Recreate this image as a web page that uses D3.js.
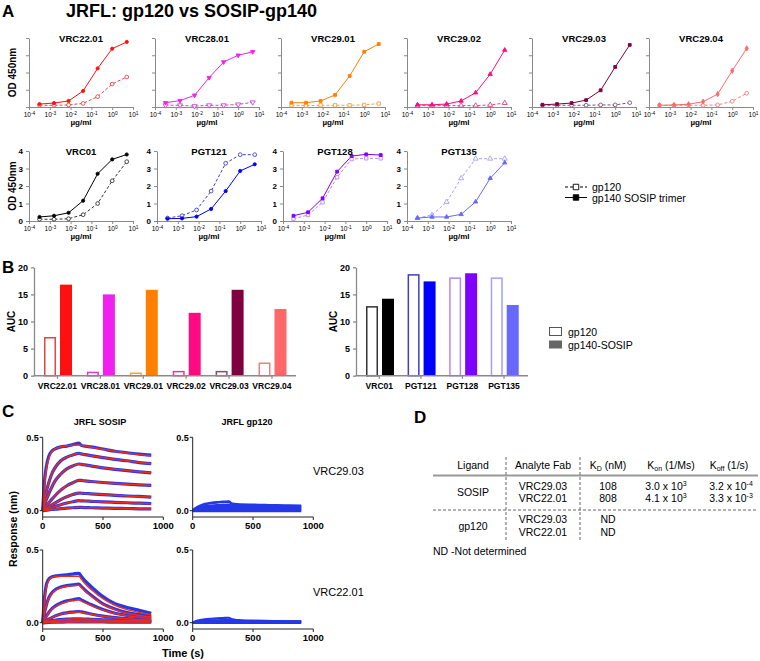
<!DOCTYPE html>
<html><head><meta charset="utf-8">
<script src="https://cdn.jsdelivr.net/npm/d3@7"></script>
<style>
body{margin:0;background:#fff;}
svg text{font-family:"Liberation Sans",Arial,Helvetica,sans-serif;}
</style></head><body>
<svg id="c" width="760" height="661"></svg>
<script>
// ---------------- DATA ----------------
const concentrations = [0.00032, 0.0016, 0.008, 0.04, 0.2, 1, 5];
const xTickValues = [1e-4, 1e-3, 1e-2, 1e-1, 1, 10];
const xTickExponents = ["-4", "-3", "-2", "-1", "0", "1"];
const odTicks = [0, 1, 2, 3, 4];

const antibodiesRow1 = ["VRC22.01", "VRC28.01", "VRC29.01", "VRC29.02", "VRC29.03", "VRC29.04"];
const odGp120Row1 = [
  [0.10, 0.10, 0.12, 0.21, 0.60, 1.33, 1.74],
  [0.10, 0.10, 0.05, 0.10, 0.10, 0.15, 0.27],
  [0.10, 0.08, 0.10, 0.10, 0.10, 0.12, 0.20],
  [0.08, 0.08, 0.08, 0.08, 0.08, 0.12, 0.23],
  [0.10, 0.10, 0.10, 0.10, 0.12, 0.12, 0.25],
  [0.10, 0.10, 0.10, 0.10, 0.12, 0.33, 0.80]
];
const odSosipRow1 = [
  [0.17, 0.23, 0.35, 0.93, 2.24, 3.38, 3.77],
  [0.25, 0.37, 0.68, 1.70, 2.61, 3.00, 3.20],
  [0.25, 0.25, 0.35, 0.70, 1.80, 3.20, 3.65],
  [0.13, 0.13, 0.17, 0.35, 0.83, 1.90, 3.30],
  [0.13, 0.17, 0.23, 0.40, 0.97, 2.32, 3.60],
  [0.10, 0.12, 0.16, 0.31, 0.75, 2.10, 3.40]
];
const antibodiesRow2 = ["VRC01", "PGT121", "PGT128", "PGT135"];
const odGp120Row2 = [
  [0.10, 0.10, 0.13, 0.36, 1.00, 2.30, 3.39],
  [0.17, 0.30, 0.63, 1.71, 3.30, 3.79, 3.79],
  [0.13, 0.34, 1.07, 2.50, 3.54, 3.58, 3.58],
  [0.17, 0.34, 1.09, 2.44, 3.56, 3.56, 3.56]
];
const odSosipRow2 = [
  [0.23, 0.30, 0.47, 1.16, 2.70, 3.52, 3.80],
  [0.13, 0.15, 0.25, 0.69, 1.71, 2.86, 3.24],
  [0.30, 0.50, 1.30, 2.82, 3.71, 3.81, 3.77],
  [0.17, 0.23, 0.23, 0.38, 1.10, 2.44, 3.33]
];
const legendA = ["gp120", "gp140 SOSIP trimer"];

const aucTicks = [0, 5, 10, 15, 20];
const aucGp120Group1 = [7.0, 0.6, 0.45, 0.75, 0.75, 2.3];
const aucSosipGroup1 = [16.8, 15.0, 15.85, 11.6, 15.85, 12.3];
const aucGp120Group2 = [12.7, 18.6, 18.0, 18.0];
const aucSosipGroup2 = [14.2, 17.4, 18.9, 13.05];
const legendB = ["gp120", "gp140-SOSIP"];

const sensorTime = [0, 15, 30, 50, 75, 100, 150, 200, 250, 300, 320, 350, 400, 500, 600, 700, 800, 900];
const sensorXTicks = [0, 500, 1000];
const sensorYTicks = [0, 0.5];
const sosipVRC2903Data = [
  [0, .20, .30, .37, .405, .42, .435, .44, .45, .46, .445, .44, .435, .42, .405, .395, .385, .378],
  [0, .07, .13, .19, .25, .29, .34, .365, .38, .39, .387, .382, .375, .362, .35, .34, .328, .32],
  [0, .04, .075, .115, .16, .2, .25, .285, .305, .318, .316, .312, .305, .292, .282, .273, .265, .258],
  [0, .017, .032, .052, .077, .1, .14, .17, .19, .207, .206, .203, .199, .192, .186, .181, .176, .172],
  [0, .008, .016, .026, .039, .052, .076, .095, .11, .12, .119, .117, .115, .11, .105, .1, .097, .093],
  [0, .004, .008, .014, .021, .028, .041, .052, .061, .068, .067, .066, .064, .06, .057, .054, .051, .048],
  [0, .002, .003, .005, .008, .01, .014, .017, .02, .023, .022, .021, .02, .018, .016, .015, .013, .012]
];
const sosipVRC2903Fit = [
  [0, .17, .28, .355, .40, .42, .435, .442, .446, .448, .445, .44, .433, .418, .405, .393, .382, .372],
  [0, .07, .13, .19, .25, .29, .34, .365, .38, .39, .387, .382, .375, .362, .35, .34, .328, .32],
  [0, .04, .075, .115, .16, .2, .25, .285, .305, .318, .316, .312, .305, .292, .282, .273, .265, .258],
  [0, .017, .032, .052, .077, .1, .14, .17, .19, .207, .206, .203, .199, .192, .186, .181, .176, .172],
  [0, .008, .016, .026, .039, .052, .076, .095, .11, .12, .119, .117, .115, .11, .105, .1, .097, .093],
  [0, .004, .008, .014, .021, .028, .041, .052, .061, .068, .067, .066, .064, .06, .057, .054, .051, .048],
  [0, .002, .003, .005, .008, .01, .014, .017, .02, .023, .022, .021, .02, .018, .016, .015, .013, .012]
];
const gp120VRC2903Data = [
  [0, .012, .02, .03, .038, .045, .052, .057, .06, .063, .05, .045, .042, .04, .038, .036, .035, .034],
  [0, .008, .014, .02, .025, .03, .034, .037, .039, .04, .036, .034, .033, .032, .031, .03, .03, .029],
  [0, .005, .01, .014, .017, .02, .023, .025, .027, .028, .026, .025, .024, .024, .023, .023, .022, .022],
  [0, .003, .006, .008, .01, .012, .014, .015, .016, .017, .016, .016, .015, .015, .015, .014, .014, .014],
  [0, .001, .002, .003, .004, .005, .006, .006, .007, .007, .007, .006, .006, .006, .006, .006, .005, .005],
  [0, -.002, -.002, -.002, -.002, -.002, -.002, -.002, -.002, -.002, -.002, -.002, -.002, -.002, -.002, -.002, -.002, -.002]
];
const sosipVRC2201Data = [
  [0, .17, .26, .30, .315, .32, .325, .33, .335, .34, .32, .29, .25, .18, .13, .105, .085, .065],
  [0, .07, .12, .17, .205, .225, .245, .255, .26, .265, .25, .225, .19, .13, .095, .07, .055, .045],
  [0, .025, .045, .07, .095, .112, .135, .15, .158, .165, .157, .145, .125, .09, .065, .05, .04, .032],
  [0, .008, .015, .025, .035, .045, .06, .068, .073, .077, .074, .069, .06, .045, .035, .028, .023, .02],
  [0, .003, .006, .01, .014, .017, .021, .024, .026, .027, .026, .025, .023, .02, .017, .015, .013, .012],
  [0, .001, .003, .005, .007, .008, .01, .011, .012, .013, .012, .012, .011, .01, .009, .008, .008, .007],
  [0, 0, .001, .002, .003, .003, .004, .005, .005, .006, .006, .005, .005, .005, .004, .004, .004, .004]
];
const sosipVRC2201Fit = [
  [0, .15, .24, .29, .31, .318, .32, .32, .32, .32, .30, .27, .23, .165, .12, .09, .07, .055],
  [0, .07, .12, .165, .2, .22, .24, .25, .255, .258, .245, .22, .185, .125, .09, .065, .05, .04],
  [0, .024, .044, .068, .092, .108, .13, .144, .152, .157, .15, .138, .12, .087, .063, .048, .038, .03],
  [0, .008, .015, .025, .035, .044, .058, .066, .071, .074, .071, .066, .058, .044, .034, .027, .022, .019],
  [0, .003, .006, .01, .014, .017, .021, .024, .026, .027, .026, .025, .023, .02, .017, .015, .013, .012],
  [0, .001, .003, .005, .007, .008, .01, .011, .012, .013, .012, .012, .011, .01, .009, .008, .008, .007],
  [0, 0, .001, .002, .003, .003, .004, .005, .005, .006, .006, .005, .005, .005, .004, .004, .004, .004]
];
const gp120VRC2201Data = [
  [0, .006, .011, .016, .02, .023, .027, .03, .032, .034, .025, .02, .017, .014, .012, .011, .01, .01],
  [0, .004, .007, .01, .012, .014, .016, .017, .018, .019, .015, .013, .012, .011, .01, .009, .009, .009],
  [0, .002, .004, .005, .006, .007, .008, .009, .009, .01, .008, .007, .007, .006, .006, .006, .005, .005],
  [0, -.002, -.002, -.002, -.002, -.002, -.002, -.002, -.002, -.002, -.002, -.002, -.002, -.002, -.002, -.002, -.002, -.002]
];
const sensorRowLabels = ["VRC29.03", "VRC22.01"];

const tableHeaders = ["Ligand", "Analyte Fab", "K_D (nM)", "K_on (1/Ms)", "K_off (1/s)"];
const tableLigands = ["SOSIP", "gp120"];
const tableAnalytes = ["VRC29.03", "VRC22.01", "VRC29.03", "VRC22.01"];
const tableKd = ["108", "808", "ND", "ND"];
const tableKonMantissa = ["3.0", "4.1"];
const tableKonExponent = ["3", "3"];
const tableKoffMantissa = ["3.2", "3.3"];
const tableKoffExponent = ["-4", "-3"];
const tableNote = "ND -Not determined";

// ---------------- STYLE ----------------
const colorOf = {
  "VRC22.01": "#ff1010", "VRC28.01": "#f020f0", "VRC29.01": "#ff8000", "VRC29.02": "#ff0a80",
  "VRC29.03": "#800040", "VRC29.04": "#ff6868", "VRC01": "#000000", "PGT121": "#0000ff",
  "PGT128": "#8000ff", "PGT135": "#6868ff"
};
const openStrokeOf = {
  "VRC22.01": "#e04848", "VRC28.01": "#d040d0", "VRC29.01": "#f0a050", "VRC29.02": "#e04090",
  "VRC29.03": "#805070", "VRC29.04": "#f08080", "VRC01": "#333333", "PGT121": "#4040c0",
  "PGT128": "#b888f0", "PGT135": "#a0a0ff"
};
const symbolOf = {
  "VRC22.01": ["circle", "circle"], "VRC28.01": ["tdown", "tdown"], "VRC29.01": ["square", "square"],
  "VRC29.02": ["triangle", "triangle"], "VRC29.03": ["square", "circle"], "VRC29.04": ["diamond", "circle"],
  "VRC01": ["circle", "circle"], "PGT121": ["circle", "circle"], "PGT128": ["square", "square"],
  "PGT135": ["triangle", "triangle"]
};
const AXIS = "#8a8a8a";
const svg = d3.select("#c");

function sym(g, type, cx, cy, size, fill, stroke) {
  let t = d3.symbolCircle, rot = 0;
  if (type === "square") t = d3.symbolSquare;
  if (type === "triangle") t = d3.symbolTriangle;
  if (type === "tdown") { t = d3.symbolTriangle; rot = 180; }
  if (type === "diamond") t = d3.symbolDiamond;
  g.append("path").attr("d", d3.symbol().type(t).size(size)())
    .attr("transform", `translate(${cx},${cy}) rotate(${rot})`)
    .attr("fill", fill).attr("stroke", stroke).attr("stroke-width", 0.9);
}
function text(g, x, y, s, size, opts = {}) {
  return g.append("text").attr("x", x).attr("y", y).text(s)
    .attr("font-size", size + "px")
    .attr("font-weight", opts.bold ? "bold" : "normal")
    .attr("text-anchor", opts.anchor || "start")
    .attr("fill", opts.fill || "#000");
}

// ---------------- PANEL A ----------------
text(svg, 2, 17, "A", 17, { bold: true });
text(svg, 66, 17, "JRFL: gp120 vs SOSIP-gp140", 18, { bold: true });

function doseChart(x0, yTop, yBot, name, gp, so, showY) {
  const g = svg.append("g");
  const x = d3.scaleLog().domain([1e-4, 10]).range([x0, x0 + 104]);
  const y = d3.scaleLinear().domain([0, 4]).range([yBot, yTop]);
  const ax = g.append("g").attr("transform", `translate(0,${yBot})`)
    .call(d3.axisBottom(x).tickValues(xTickValues).tickSize(3).tickSizeOuter(0).tickFormat(""))
    .attr("color", AXIS);
  ax.selectAll(".tick").each(function (d, i) {
    const t = d3.select(this).append("text").attr("y", 10).attr("fill", "#000")
      .attr("font-size", "6.5px").attr("text-anchor", "middle");
    t.append("tspan").text("10");
    t.append("tspan").attr("dy", -2.5).attr("font-size", "4.8px").text(xTickExponents[i]);
  });
  const ay = g.append("g").attr("transform", `translate(${x0},0)`)
    .call(d3.axisLeft(y).tickValues(odTicks).tickSize(3).tickSizeOuter(0)
      .tickFormat(showY ? d3.format("d") : ""))
    .attr("color", AXIS);
  ay.selectAll("text").attr("fill", "#000").attr("font-size", "8px").attr("font-weight", "bold");
  ay.selectAll("path,line").attr("stroke-width", 1);
  ax.selectAll("path,line").attr("stroke-width", 1);

  const c = colorOf[name], oc = openStrokeOf[name];
  const line = d3.line().x(d => x(d[0])).y(d => y(d[1]));
  const gpPts = concentrations.map((cc, i) => [cc, gp[i]]);
  const soPts = concentrations.map((cc, i) => [cc, so[i]]);
  g.append("path").attr("d", line(gpPts)).attr("fill", "none").attr("stroke", oc)
    .attr("stroke-width", 1).attr("stroke-dasharray", "3,2");
  g.append("path").attr("d", line(soPts)).attr("fill", "none").attr("stroke", c).attr("stroke-width", 1);
  gpPts.forEach(p => sym(g, symbolOf[name][1], x(p[0]), y(p[1]), 11, "#fff", oc));
  soPts.forEach(p => sym(g, symbolOf[name][0], x(p[0]), y(p[1]), 8, c, c));

  text(g, x0 + 52, yTop + 4, name, 9.5, { bold: true, anchor: "middle" });
  text(g, x0 + 52, yBot + 17.5, "\u00b5g/ml", 8, { bold: true, anchor: "middle" });
}
const row1X = [29, 155, 281, 407, 532, 649];
const row2X = [29, 157, 283, 407];
antibodiesRow1.forEach((n, i) => doseChart(row1X[i], 38, 107, n, odGp120Row1[i], odSosipRow1[i], false));
antibodiesRow2.forEach((n, i) => doseChart(row2X[i], 151, 221, n, odGp120Row2[i], odSosipRow2[i], true));
[[72.5], [186]].forEach((c, i) => {
  svg.append("text").attr("transform", `translate(16,${c[0]}) rotate(-90)`).attr("text-anchor", "middle")
    .attr("font-size", "10px").attr("font-weight", "bold").text("OD 450nm");
});
// legend A
{
  const g = svg.append("g");
  g.append("line").attr("x1", 565).attr("x2", 587).attr("y1", 187).attr("y2", 187)
    .attr("stroke", "#000").attr("stroke-dasharray", "3,2");
  sym(g, "square", 576, 187, 30, "#fff", "#000");
  text(g, 592, 190.5, legendA[0], 10.5);
  g.append("line").attr("x1", 565).attr("x2", 587).attr("y1", 197.5).attr("y2", 197.5).attr("stroke", "#000");
  sym(g, "square", 576, 197.5, 30, "#000", "#000");
  text(g, 592, 201.5, legendA[1], 10.5);
}

// ---------------- PANEL B ----------------
text(svg, 2, 273, "B", 17, { bold: true });
function barChart(axisX, axisEnd, bandStart, bandEnd, cats, open, filled, inner) {
  const g = svg.append("g");
  const y = d3.scaleLinear().domain([0, 20]).range([375.7, 267.3]);
  const x0 = d3.scaleBand().domain(cats).range([bandStart, bandEnd]);
  const x1 = d3.scaleBand().domain(["gp120", "sosip"]).range(inner).paddingInner(0.25);
  cats.forEach((c, i) => {
    g.append("rect").attr("x", x0(c) + x1("gp120") + 0.75).attr("width", x1.bandwidth() - 1.5)
      .attr("y", y(open[i])).attr("height", y(0) - y(open[i]))
      .attr("fill", "#fff").attr("stroke", openStrokeOf[c]).attr("stroke-width", 1.5);
    g.append("rect").attr("x", x0(c) + x1("sosip")).attr("width", x1.bandwidth())
      .attr("y", y(filled[i])).attr("height", y(0) - y(filled[i]))
      .attr("fill", colorOf[c]);
  });
  const ay = g.append("g").attr("transform", `translate(${axisX},0)`)
    .call(d3.axisLeft(y).tickValues(aucTicks).tickSize(3).tickSizeOuter(0)).attr("color", AXIS);
  ay.selectAll("text").attr("fill", "#000").attr("font-size", "9px").attr("font-weight", "bold");
  ay.selectAll("path,line").attr("stroke-width", 1.3);
  g.append("line").attr("x1", axisX - 0.5).attr("x2", axisEnd).attr("y1", y(0)).attr("y2", y(0))
    .attr("stroke", AXIS).attr("stroke-width", 1.6);
  cats.forEach(c => {
    const cx = x0(c) + x0.bandwidth() / 2;
    g.append("line").attr("x1", cx).attr("x2", cx).attr("y1", y(0)).attr("y2", y(0) + 3)
      .attr("stroke", AXIS).attr("stroke-width", 1.3);
    text(g, cx, 389, c, 8.5, { bold: true, anchor: "middle" });
  });
  g.append("text").attr("transform", `translate(${axisX - 19},${(y(0) + y(20)) / 2}) rotate(-90)`)
    .attr("text-anchor", "middle").attr("font-size", "10px").attr("font-weight", "bold").text("AUC");
}
barChart(34, 296, 36, 293.4, antibodiesRow1, aucGp120Group1, aucSosipGroup1, [8, 36]);
barChart(356, 528, 358.5, 524.8, antibodiesRow2, aucGp120Group2, aucSosipGroup2, [7.5, 35.5]);
{
  const g = svg.append("g");
  g.append("rect").attr("x", 549.5).attr("y", 327.5).attr("width", 12).attr("height", 8)
    .attr("fill", "#fff").attr("stroke", "#555").attr("stroke-width", 1);
  g.append("rect").attr("x", 549).attr("y", 340.5).attr("width", 13).attr("height", 8).attr("fill", "#666");
  text(g, 568, 335.5, legendB[0], 10.5);
  text(g, 568, 348.5, legendB[1], 10.5);
}

// ---------------- PANEL C ----------------
text(svg, 2, 417, "C", 17, { bold: true });
text(svg, 100, 425, "JRFL SOSIP", 9, { bold: true, anchor: "middle" });
text(svg, 247, 425, "JRFL gp120", 9, { bold: true, anchor: "middle" });
const BLUE = "#2438e8", RED = "#ee2a1c";
function sensorChart(x0, yZero, yHalf, xAxisY, data, fit, bw) {
  const g = svg.append("g");
  const x = d3.scaleLinear().domain([0, 1000]).range([x0, x0 + 120.6]);
  const y = d3.scaleLinear().domain([0, 0.5]).range([yZero, yHalf]);
  const line = d3.line().x((d, i) => x(sensorTime[i])).y(d => y(d)).curve(d3.curveMonotoneX);
  data.forEach(arr => g.append("path").attr("d", line(arr)).attr("fill", "none")
    .attr("stroke", BLUE).attr("stroke-width", bw).attr("stroke-linejoin", "round"));
  if (fit) fit.forEach(arr => g.append("path").attr("d", line(arr)).attr("fill", "none")
    .attr("stroke", RED).attr("stroke-width", 1.5));
  // axes
  g.append("line").attr("x1", x0).attr("x2", x0).attr("y1", yHalf).attr("y2", xAxisY).attr("stroke", "#222").attr("stroke-width", 1);
  g.append("line").attr("x1", x0).attr("x2", x(1000)).attr("y1", xAxisY).attr("y2", xAxisY).attr("stroke", "#222").attr("stroke-width", 1);
  sensorYTicks.forEach(v => {
    g.append("line").attr("x1", x0 - 3).attr("x2", x0).attr("y1", y(v)).attr("y2", y(v)).attr("stroke", "#222");
    text(g, x0 - 4, y(v) + 3.3, d3.format(".1f")(v), 9, { bold: true, anchor: "end" });
  });
  sensorXTicks.forEach(v => {
    g.append("line").attr("x1", x(v)).attr("x2", x(v)).attr("y1", xAxisY).attr("y2", xAxisY + 3).attr("stroke", "#222");
    text(g, x(v), xAxisY + 12, v, 9.5, { bold: true, anchor: "middle" });
  });
}
sensorChart(42.7, 510.7, 437.3, 517, sosipVRC2903Data, sosipVRC2903Fit, 3.2);
sensorChart(192.7, 510.7, 437.3, 517, gp120VRC2903Data, null, 2.6);
sensorChart(42.7, 622.7, 550, 629, sosipVRC2201Data, sosipVRC2201Fit, 3.2);
sensorChart(192.7, 622.7, 550, 629, gp120VRC2201Data, null, 2.2);
text(svg, 313, 475, sensorRowLabels[0], 11);
text(svg, 313, 596, sensorRowLabels[1], 11);
text(svg, 183, 657, "Time (s)", 11, { bold: true, anchor: "middle" });
svg.append("text").attr("transform", "translate(17,529) rotate(-90)").attr("text-anchor", "middle")
  .attr("font-size", "10.5px").attr("font-weight", "bold").text("Response (nm)");

// ---------------- PANEL D ----------------
text(svg, 414, 423, "D", 17, { bold: true });
{
  const g = svg.append("g");
  const colX = [473, 543, 608, 671, 729];
  const fs = 10.5;
  tableHeaders.forEach((h, i) => {
    const t = g.append("text").attr("x", colX[i]).attr("y", 469).attr("text-anchor", "middle")
      .attr("font-size", fs + "px");
    const m = h.match(/^K_(\w+)(.*)$/);
    if (m) {
      t.append("tspan").text("K");
      t.append("tspan").attr("font-size", "7px").attr("dy", 2).text(m[1]);
      t.append("tspan").attr("dy", -2).text(m[2]);
    } else t.text(h);
  });
  g.append("line").attr("x1", 433).attr("x2", 758).attr("y1", 475.5).attr("y2", 475.5)
    .attr("stroke", "#999").attr("stroke-width", 2);
  g.append("line").attr("x1", 433).attr("x2", 758).attr("y1", 510).attr("y2", 510)
    .attr("stroke", "#666").attr("stroke-width", 1).attr("stroke-dasharray", "3,2");
  [506, 580].forEach(xv => g.append("line").attr("x1", xv).attr("x2", xv).attr("y1", 457).attr("y2", 542)
    .attr("stroke", "#666").attr("stroke-width", 1).attr("stroke-dasharray", "3,2"));
  const rowY = [489.5, 502, 523, 535.5];
  text(g, colX[0], 495.5, tableLigands[0], fs, { anchor: "middle" });
  text(g, colX[0], 529.5, tableLigands[1], fs, { anchor: "middle" });
  tableAnalytes.forEach((a, i) => text(g, colX[1], rowY[i], a, fs, { anchor: "middle" }));
  tableKd.forEach((a, i) => text(g, colX[2], rowY[i], a, fs, { anchor: "middle" }));
  function sci(xc, yv, mant, ex) {
    const t = g.append("text").attr("x", xc).attr("y", yv).attr("text-anchor", "middle").attr("font-size", fs + "px");
    t.append("tspan").text(mant + " x 10");
    t.append("tspan").attr("dy", -4).attr("font-size", "7px").text(ex);
  }
  tableKonMantissa.forEach((m, i) => sci(colX[3] - 5, rowY[i], m, tableKonExponent[i]));
  tableKoffMantissa.forEach((m, i) => sci(colX[4] + 2, rowY[i], m, tableKoffExponent[i]));
  text(g, 433, 555, tableNote, fs);
}
</script>
</body></html>
